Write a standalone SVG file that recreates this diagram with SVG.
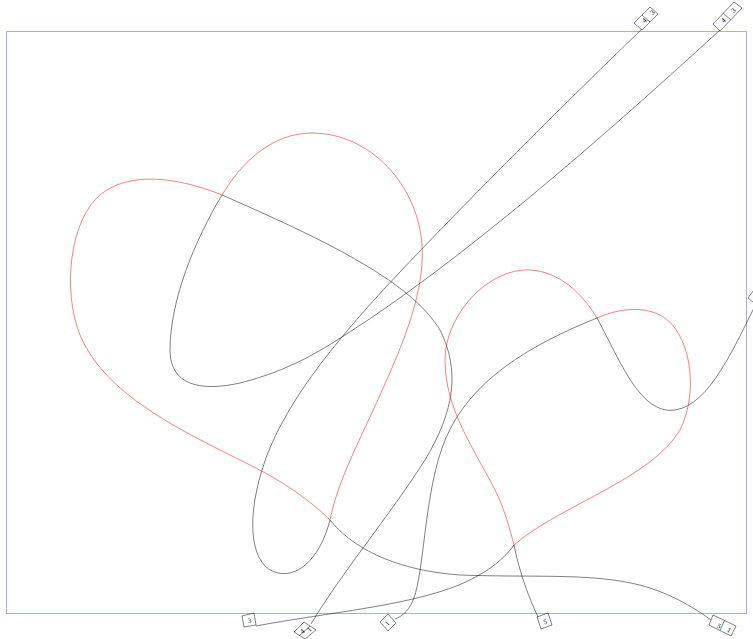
<svg xmlns="http://www.w3.org/2000/svg" width="753" height="639" viewBox="0 0 753 639">
<style>
.bk{fill:none;stroke:#000;stroke-width:0.5}
.rd{fill:none;stroke:#f00;stroke-width:0.5}
.bx{fill:none;stroke:#000;stroke-width:0.5}
.lb{font-family:"Liberation Serif",serif;font-size:7px;fill:#000;text-anchor:middle}
</style>
<rect x="6.5" y="31.5" width="740" height="582" fill="none" stroke="#aaaaff" stroke-width="1"/>
<g id="connectors">
<path class="bk" d="M642,29 C560,108 470,198 400,272 C330,346 280,410 262,470 C245,525 252,568 278,573 C302,578 322,552 330,520"/>
<path class="rd" d="M330,520 C338,480 360,440 380,395 C405,340 425,290 422,245 C418,185 370,133 312,133 C270,133 240,165 222,195"/>
<path class="bk" d="M222,195 C195,240 170,300 170,350 C170,385 200,392 240,383 C280,373 310,358 345,335 C460,262 600,140 720,30"/>
<path class="bk" d="M311,624 C340,575 390,515 425,460 C455,410 460,370 440,330 C410,280 320,238 222,195"/>
<path class="rd" d="M222,195 C180,178 130,170 100,195 C70,220 62,290 80,335 C105,395 180,430 250,465 C290,485 315,505 330,520"/>
<path class="bk" d="M330,520 C350,545 390,570 460,575 C540,578 600,572 650,588 C680,598 700,612 711,620"/>
<path class="bk" d="M256,626 C330,612 420,605 470,580 C490,570 505,558 514,545"/>
<path class="rd" d="M514,545 C560,505 650,480 680,430 C700,390 690,330 660,315 C640,305 615,310 597,318"/>
<path class="bk" d="M597,318 C530,345 470,380 445,440 C425,490 425,560 415,595 C410,610 403,616 395,619"/>
<path class="bk" d="M756,304 C735,345 710,405 675,410 C640,415 620,360 597,318"/>
<path class="rd" d="M597,318 C580,290 555,268 522,270 C480,275 445,320 445,360 C445,410 475,450 495,490 C505,510 510,530 514,545"/>
<path class="bk" d="M514,545 C520,575 530,600 538,617"/>
</g>
<g id="n1">
<polygon class="bx" points="634,23 650,7 658,14 642,30"/>
<line class="bx" x1="642" y1="15" x2="650" y2="22"/>
<text class="lb" transform="translate(646,22) rotate(-45)">4</text>
<text class="lb" transform="translate(654,14) rotate(-45)">3</text>
</g>
<g id="n2">
<polygon class="bx" points="713,24 734,2 742,8 720,31"/>
<line class="bx" x1="723" y1="13" x2="731" y2="20"/>
<text class="lb" transform="translate(725,22) rotate(-45)">4</text>
<text class="lb" transform="translate(735,12) rotate(-45)">3</text>
</g>
<g id="n3">
<polygon class="bx" points="748,298 756,287 766,295 758,306"/>
</g>
<g id="n4">
<polygon class="bx" points="242,616 254,613 256,625 244,627"/>
<text class="lb" transform="translate(250,623) rotate(-10)">3</text>
</g>
<g id="n5">
<polygon class="bx" points="294,632 304,622 316,630 305,639"/>
<line class="bx" x1="310" y1="626" x2="299.5" y2="635.5"/>
<text class="lb" transform="translate(304,633) rotate(-45)">4</text>
<text class="lb" transform="translate(311,631) rotate(-45)">1</text>
</g>
<g id="n6">
<polygon class="bx" points="380,622 388,614 396,623 388,631"/>
<text class="lb" transform="translate(389,625) rotate(-45)">1</text>
</g>
<g id="n7">
<polygon class="bx" points="537,617 548,613 552,625 541,629"/>
<text class="lb" transform="translate(546,624) rotate(-18)">5</text>
</g>
<g id="n8">
<polygon class="bx" points="713,615 736,626 731,636 709,625"/>
<line class="bx" x1="724.5" y1="620.5" x2="720" y2="630.5"/>
<text class="lb" transform="translate(718,628) rotate(27)">5</text>
<text class="lb" transform="translate(728,632) rotate(27)">1</text>
</g>
</svg>
